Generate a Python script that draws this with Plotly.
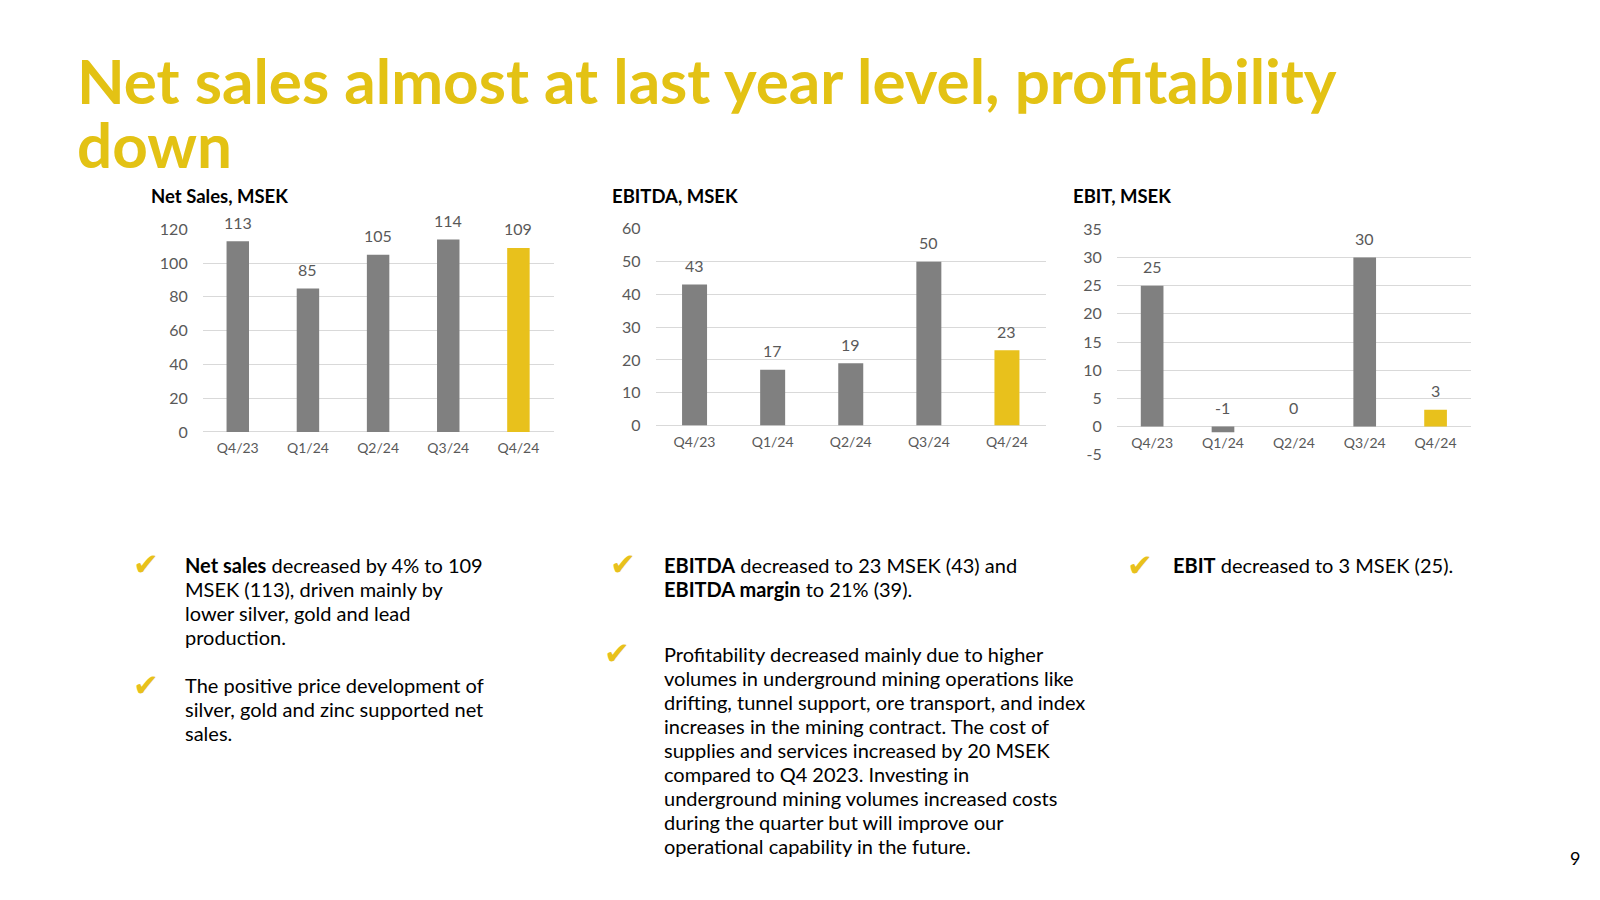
import plotly.graph_objects as go

# ---------------- data ----------------
quarters = ["Q4/23", "Q1/24", "Q2/24", "Q3/24", "Q4/24"]
net_sales = [113, 85, 105, 114, 109]
ebitda = [43, 17, 19, 50, 23]
ebit = [25, -1, 0, 30, 3]

net_sales_ticks = [0, 20, 40, 60, 80, 100, 120]
ebitda_ticks = [0, 10, 20, 30, 40, 50, 60]
ebit_ticks = [-5, 0, 5, 10, 15, 20, 25, 30, 35]
ebit_tick_labels = ["-5", "0", "5", "10", "15", "20", "25", "30", "35"]

chart_titles = ["Net Sales, MSEK", "EBITDA, MSEK", "EBIT, MSEK"]
title_lines = ["Net sales almost at last year level, profitability", "down"]

bullet1_lines = ["<b>Net sales</b> decreased by 4% to 109", "MSEK (113), driven mainly by",
                 "lower silver, gold and lead", "production."]
bullet2_lines = ["The positive price development of", "silver, gold and zinc supported net", "sales."]
bullet3_lines = ["<b>EBITDA</b> decreased to 23 MSEK (43) and", "<b>EBITDA margin</b> to 21% (39)."]
bullet4_lines = ["Profitability decreased mainly due to higher",
                 "volumes in underground mining operations like",
                 "drifting, tunnel support, ore transport, and index",
                 "increases in the mining contract. The cost of",
                 "supplies and services increased by 20 MSEK",
                 "compared to Q4 2023. Investing in",
                 "underground mining volumes increased costs",
                 "during the quarter but will improve our",
                 "operational capability in the future."]
bullet5_lines = ["<b>EBIT</b> decreased to 3 MSEK (25)."]
page_number = "9"

# ---------------- style ----------------
OFF = 8                      # default page margin of the html body
W, H = 1600 - 2 * OFF, 900 - 2 * OFF
GRAY = "#808080"
YELLOW = "#E8C11C"
TITLE_YELLOW = "#E3C214"
GRID = "#D9D9D9"
TICK = "#595959"
FONT = "Lato"

def px(x):
    return (x - OFF) / W

def py(y):
    return 1 - (y - OFF) / H

fig = go.Figure()

series = [net_sales, ebitda, ebit]
for i, vals in enumerate(series):
    n = "" if i == 0 else str(i + 1)
    colors = [YELLOW if q == "Q4/24" else GRAY for q in quarters]
    fig.add_trace(go.Bar(x=quarters, y=vals, marker=dict(color=colors, line=dict(width=0)),
                         width=0.32, xaxis="x" + n, yaxis="y" + n, showlegend=False,
                         hoverinfo="x+y"))

annotations = []
for i, vals in enumerate(series):
    n = "" if i == 0 else str(i + 1)
    for q, v in zip(quarters, vals):
        annotations.append(dict(x=q, y=max(v, 0), xref="x" + n, yref="y" + n,
                                text=str(v), showarrow=False, yanchor="middle",
                                yshift=19, font=dict(family=FONT, size=16, color=TICK)))

# chart titles
title_pos = [(148.5, 190), (610.3, 190), (1071.3, 190)]
for t, (x, y) in zip(chart_titles, title_pos):
    annotations.append(dict(x=px(x), y=py(y), xref="paper", yref="paper", text="<b>" + t + "</b>",
                            showarrow=False, xanchor="left", yanchor="middle",
                            font=dict(family=FONT, size=18.5, color="#000000")))

# main title
for k, line in enumerate(title_lines):
    annotations.append(dict(x=px(75), y=py(71 + k * 65.6), xref="paper", yref="paper",
                            text="<b>" + line + "</b>", showarrow=False, xanchor="left",
                            yanchor="middle", font=dict(family=FONT, size=62, color=TITLE_YELLOW)))

# bullets
def add_bullet(check_xy, text_x, first_y, lines):
    cx, cy = check_xy
    annotations.append(dict(x=px(cx), y=py(cy), xref="paper", yref="paper", text="✔",
                            showarrow=False, xanchor="center", yanchor="middle",
                            font=dict(family="DejaVu Sans", size=31, color=YELLOW)))
    for k, line in enumerate(lines):
        annotations.append(dict(x=px(text_x), y=py(first_y + k * 24.6), xref="paper", yref="paper",
                                text=line, showarrow=False, xanchor="left", yanchor="middle",
                                font=dict(family=FONT, size=20, color="#000000")))

add_bullet((145.5, 566), 183, 567.3, bullet1_lines)
add_bullet((145.5, 689.5), 183, 689.3, bullet2_lines)
add_bullet((623, 566), 661.8, 567.3, bullet3_lines)
add_bullet((616.7, 657), 661.8, 657.7, bullet4_lines)
add_bullet((1140, 567), 1170.8, 567.3, bullet5_lines)

annotations.append(dict(x=px(1575), y=py(866), xref="paper", yref="paper", text=page_number,
                        showarrow=False, xanchor="center", yanchor="middle",
                        font=dict(family=FONT, size=18, color="#000000")))

def xax(domain, **kw):
    d = dict(domain=domain, type="category", showgrid=False, showline=False, zeroline=False,
             ticks="", ticklabelstandoff=6, tickfont=dict(family=FONT, size=14, color=TICK),
             fixedrange=True)
    d.update(kw)
    return d

def yax(domain, rng, tickvals, ticktext=None, **kw):
    d = dict(domain=domain, range=rng, tickmode="array", tickvals=tickvals,
             ticktext=ticktext if ticktext is not None else [str(t) for t in tickvals],
             showgrid=True, gridcolor=GRID, gridwidth=1.3,
             zeroline=True, zerolinecolor=GRID, zerolinewidth=1.3, showline=False, ticks="",
             ticklabelstandoff=14, tickfont=dict(family=FONT, size=16, color=TICK), fixedrange=True)
    d.update(kw)
    return d

fig.update_layout(
    width=W, height=H, autosize=False,
    margin=dict(l=0, r=0, t=0, b=0),
    paper_bgcolor="white", plot_bgcolor="white",
    bargap=0.68,
    font=dict(family=FONT),
    xaxis=xax([px(202.7), px(553.5)], anchor="y"),
    yaxis=yax([py(431), py(224)], [0, 120], net_sales_ticks, anchor="x"),
    xaxis2=xax([px(655.5), px(1046)], anchor="y2"),
    yaxis2=yax([py(424.5), py(223.5)], [0, 60], ebitda_ticks, anchor="x2"),
    xaxis3=xax([px(1116.7), px(1471)], anchor="free", position=py(425.5)),
    yaxis3=yax([py(454.3), py(224)], [-5, 35], ebit_ticks, ebit_tick_labels, anchor="x3"),
    annotations=annotations,
)

fig.write_html("out.html")
